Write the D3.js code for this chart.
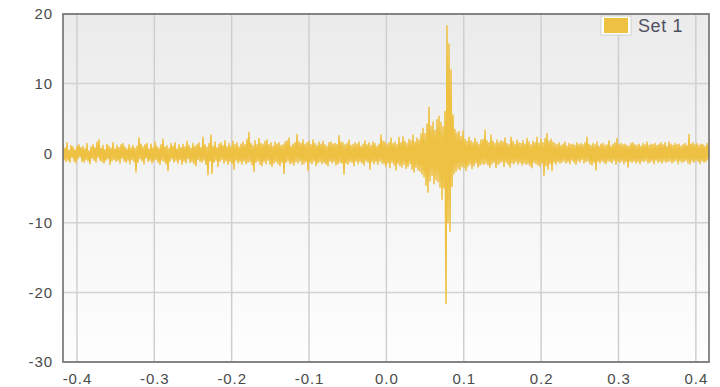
<!DOCTYPE html>
<html><head><meta charset="utf-8">
<script src="https://cdn.jsdelivr.net/npm/d3@7"></script>
<style>body{margin:0;background:#fff}svg{display:block}text{font-family:"Liberation Sans",Arial,sans-serif}</style>
</head><body><svg id="c" width="720" height="387"></svg>
<script>
const seriesName = "Set 1";
const xDomain = [-0.418, 0.417];
const yDomain = [-30, 20];
const xTicks = [-0.4,-0.3,-0.2,-0.1,0.0,0.1,0.2,0.3,0.4];
const yTicks = [-30,-20,-10,0,10,20];
const values = [
1.3,-0.9,0.7,-1.2,1.5,-1.0,0.4,-1.3,1.1,-0.6,0.9,-1.1,0.5,-1.4,1.0,-0.8,1.2,-0.5,0.8,-1.2,
1.0,-1.3,0.6,-0.9,1.4,-1.1,0.3,-1.5,0.9,-0.7,1.2,-1.0,0.8,-1.3,1.6,-0.6,1.9,-1.0,0.7,-1.2,
1.1,-1.4,0.5,-1.0,1.3,-0.8,1.0,-1.6,0.7,-1.1,1.5,-0.9,0.6,-1.2,1.1,-1.0,0.8,-1.4,1.2,-0.7,
1.4,-1.1,0.9,-1.3,0.6,-1.0,1.2,-1.5,0.8,-0.9,1.1,-1.2,0.7,-2.7,1.0,-1.3,2.2,-0.8,1.3,-1.1,
0.9,-1.5,1.2,-0.7,1.4,-1.2,0.6,-1.0,1.3,-1.4,0.8,-1.1,1.6,-0.9,1.0,-1.3,0.7,-1.6,1.2,-1.0,
2.0,-1.2,0.9,-1.5,1.1,-2.5,0.7,-1.1,1.4,-0.8,1.0,-1.3,1.5,-1.0,0.6,-1.4,1.2,-0.9,0.8,-1.6,
1.3,-1.1,0.9,-1.4,1.7,-0.8,1.1,-1.3,0.7,-1.2,1.4,-1.5,1.0,-1.8,1.2,-0.9,1.5,-1.2,0.8,-1.3,
2.3,-1.0,1.2,-1.6,0.9,-3.1,1.4,-1.1,2.6,-2.9,1.0,-1.3,1.6,-1.0,0.8,-1.9,1.3,-1.2,1.5,-0.9,
1.1,-1.4,1.8,-1.1,0.9,-1.6,1.4,-1.2,1.0,-1.5,1.7,-2.3,1.2,-1.0,1.5,-1.4,0.9,-1.2,1.3,-1.6,
1.6,-1.1,1.2,-1.5,2.0,-1.3,3.0,-1.2,1.4,-1.7,1.1,-2.6,1.8,-1.3,1.2,-1.1,2.1,-1.6,1.4,-1.8,
1.3,-1.2,1.7,-1.5,1.9,-1.0,1.2,-1.6,1.5,-1.9,1.0,-1.4,1.6,-1.2,1.3,-1.5,1.5,-1.8,1.1,-1.3,
1.2,-2.9,1.6,-1.3,1.8,-1.1,2.2,-1.5,1.0,-1.4,1.3,-1.7,1.5,-1.2,2.7,-1.4,1.6,-1.1,1.4,-1.6,
1.9,-1.5,1.3,-1.2,1.5,-2.5,1.7,-1.3,1.2,-1.5,1.9,-1.1,1.4,-1.8,1.1,-1.4,1.6,-1.2,1.3,-1.5,
1.7,-1.3,1.2,-1.6,1.0,-1.8,1.5,-1.1,1.6,-1.4,1.3,-1.2,1.4,-1.7,1.2,-1.5,2.5,-1.3,1.6,-1.4,
1.5,-3.0,1.2,-1.4,1.4,-1.6,1.9,-1.2,1.1,-1.3,1.2,-1.8,1.5,-1.1,1.3,-1.5,1.6,-1.2,1.0,-1.4,
1.3,-1.7,1.8,-1.1,1.2,-1.3,1.5,-2.3,1.1,-1.2,1.6,-1.5,1.4,-1.2,1.0,-1.6,1.3,-1.1,2.6,-1.4,
1.7,-1.5,1.6,-1.9,1.3,-1.4,1.5,-2.1,2.2,-1.3,1.4,-1.7,1.6,-2.4,1.2,-1.5,2.3,-1.8,1.5,-2.0,
2.4,-1.6,1.7,-2.2,1.4,-1.9,2.0,-1.5,1.8,-2.3,2.6,-2.7,1.6,-2.0,2.2,-2.4,1.9,-2.6,2.8,-3.0,
3.6,-3.4,2.8,-4.6,4.2,-5.6,6.6,-4.0,3.9,-3.2,4.5,-4.4,3.3,-3.8,4.8,-4.1,5.3,-4.9,4.4,-6.6,
3.8,-5.0,6.0,-21.6,18.3,-10.0,15.7,-11.2,12.0,-4.8,5.5,-3.0,3.4,-2.6,2.9,-2.2,3.1,-2.4,2.4,-1.9,
3.2,-2.1,2.0,-2.5,1.7,-1.9,2.3,-1.6,1.8,-2.2,1.5,-1.8,2.1,-1.4,1.6,-2.0,1.3,-1.7,1.9,-1.5,
2.0,-1.6,3.3,-1.4,1.8,-1.7,1.5,-2.0,2.6,-1.5,1.7,-1.3,1.4,-2.1,1.9,-1.6,1.5,-1.4,1.8,-1.2,
1.6,-1.9,2.2,-1.3,1.4,-1.6,1.2,-2.0,2.3,-1.4,1.7,-1.5,1.3,-1.2,1.9,-1.6,1.5,-1.3,1.4,-1.7,
1.8,-1.4,1.3,-1.6,2.1,-1.5,1.6,-1.8,1.2,-2.1,1.7,-1.3,1.5,-1.5,2.3,-1.7,1.4,-1.9,2.0,-1.4,
1.5,-3.2,2.1,-1.8,2.8,-2.3,1.7,-1.5,2.0,-2.5,1.6,-1.3,1.4,-1.6,1.2,-1.2,1.5,-1.4,1.1,-1.3,
1.3,-1.1,1.6,-1.4,1.0,-1.2,1.4,-1.5,1.2,-1.0,1.3,-1.3,1.1,-1.6,1.5,-1.1,1.2,-1.3,1.4,-0.9,
1.2,-1.4,1.5,-1.2,2.3,-1.1,1.3,-1.5,1.1,-1.7,1.4,-1.3,1.2,-2.4,1.6,-1.2,1.0,-1.4,1.3,-1.1,
1.4,-1.3,1.1,-1.5,1.2,-1.1,1.8,-1.2,1.0,-1.4,1.3,-1.0,1.5,-1.6,2.1,-1.2,1.2,-1.3,1.4,-1.1,
1.2,-1.5,1.3,-1.2,1.1,-2.0,1.0,-1.2,1.4,-1.3,1.5,-1.1,1.2,-1.4,1.1,-1.2,1.3,-1.5,1.0,-1.1,
1.4,-1.2,1.2,-1.0,1.6,-1.4,1.1,-1.3,1.3,-1.1,1.2,-1.5,1.4,-1.0,1.1,-1.3,1.3,-1.2,1.5,-1.4,
1.2,-1.1,1.5,-1.3,1.0,-1.2,1.6,-1.1,1.3,-1.4,1.1,-1.2,1.4,-1.0,1.2,-1.5,1.3,-1.1,1.0,-1.3,
1.2,-1.2,1.4,-1.0,1.1,-1.4,2.7,-1.6,1.3,-1.1,1.5,-1.3,1.2,-1.0,1.4,-1.2,1.1,-1.5,1.3,-1.1,
1.2,-1.3,1.0,-1.2,1.4,-0.9,1.1
];

const svg = d3.select("#c");
const L = 63, R = 709, T = 14, B = 362;
const x = d3.scaleLinear().domain(xDomain).range([L, R]);
const y = d3.scaleLinear().domain(yDomain).range([B, T]);
const idx = d3.scaleLinear().domain([0, values.length - 1]).range(xDomain);
const fmtX = d => d3.format(".1f")(d).replace("\u2212", "-");
const fmtY = d => String(d);

const defs = svg.append("defs");
const g = defs.append("linearGradient").attr("id","bg").attr("x1",0).attr("y1",0).attr("x2",0).attr("y2",1);
g.append("stop").attr("offset","0%").attr("stop-color","#ebebeb");
g.append("stop").attr("offset","100%").attr("stop-color","#fefefe");
defs.append("clipPath").attr("id","clip").append("rect").attr("x",L).attr("y",T).attr("width",R-L).attr("height",B-T);

svg.append("rect").attr("x",L).attr("y",T).attr("width",R-L).attr("height",B-T).attr("fill","url(#bg)");

// grid
svg.append("g").selectAll("line").data(xTicks).join("line")
  .attr("x1",d=>x(d)).attr("x2",d=>x(d)).attr("y1",T).attr("y2",B)
  .attr("stroke","#cfcfcf").attr("stroke-width",1.5);
svg.append("g").selectAll("line").data(yTicks).join("line")
  .attr("x1",L).attr("x2",R).attr("y1",d=>y(d)).attr("y2",d=>y(d))
  .attr("stroke","#d2d2d2").attr("stroke-width",1.5);

// line
const line = d3.line().x((d,i)=>x(idx(i))).y(d=>y(d));
svg.append("path").datum(values).attr("clip-path","url(#clip)")
  .attr("d",line).attr("fill","none").attr("stroke","#efc142")
  .attr("stroke-width",1.5).attr("stroke-linejoin","round");

// frame
svg.append("rect").attr("x",L).attr("y",T).attr("width",R-L).attr("height",B-T)
  .attr("fill","none").attr("stroke","#6e6e6e").attr("stroke-width",1.6);

// axes labels
const xAxis = d3.axisBottom(x).tickValues(xTicks).tickFormat(fmtX).tickSize(0).tickPadding(0);
const gx = svg.append("g").attr("transform",`translate(0,${B})`).call(xAxis);
gx.select(".domain").remove();
gx.selectAll("text").attr("dy",null).attr("y",22).attr("fill","#4a4a4a")
  .style("font-size","15px").style("letter-spacing","0.9px");

const yAxis = d3.axisLeft(y).tickValues(yTicks).tickFormat(fmtY).tickSize(0).tickPadding(10);
const gy = svg.append("g").attr("transform",`translate(${L},0)`).call(yAxis);
gy.select(".domain").remove();
gy.selectAll("text").attr("fill","#4a4a4a").style("font-size","15px").style("letter-spacing","0.9px");

// legend
const lg = svg.append("g");
lg.append("rect").attr("x",601).attr("y",16).attr("width",30).attr("height",19)
  .attr("fill","#fff").attr("stroke","#d0d0d0").attr("stroke-width",1);
lg.append("rect").attr("x",604).attr("y",18).attr("width",24).attr("height",15).attr("fill","#efc142");
lg.append("text").attr("x",638).attr("y",32).attr("fill","#505060")
  .style("font-size","18px").style("letter-spacing","0.6px").text(seriesName);
</script></body></html>
